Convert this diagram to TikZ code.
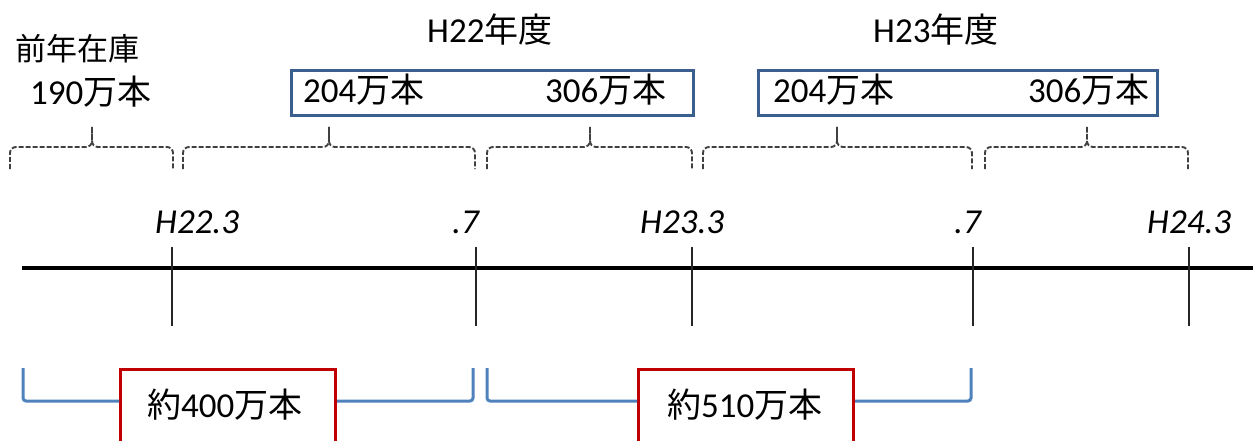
\documentclass[tikz,border=0pt]{standalone}
\usepackage{fontspec}
\setmainfont{Carlito}
\newfontfamily\cjk{Noto Sans CJK JP}
\newcommand\JP[1]{{\cjk\fontsize{34}{40}\selectfont #1}}
\definecolor{boxblue}{HTML}{3A5F8F}
\definecolor{brblue}{HTML}{4F81BD}
\definecolor{boxred}{HTML}{C00000}
\definecolor{dashgray}{HTML}{404040}
\tikzset{
 txt/.style={inner sep=0pt, anchor=base west, font=\fontsize{35}{40}\selectfont},
 itxt/.style={txt, font=\fontsize{35}{40}\selectfont\itshape},
 tickline/.style={line width=1.6pt, black!85},
 axisline/.style={line width=3.6pt, black},
 bluebox/.style={draw=boxblue, line width=3.4pt, inner sep=0pt, anchor=north west},
 redbox/.style={draw=boxred, line width=3.2pt, inner sep=0pt, anchor=north west},
 bracket/.style={draw=brblue, line width=3pt, rounded corners=3pt},
 bracehalf/.style={draw=dashgray, line width=1.9pt, dash pattern=on 5pt off 2pt, rounded corners=6pt},
}
\begin{document}
\begin{tikzpicture}[x=1pt,y=-1pt]
\useasboundingbox (0,0) rectangle (1253,441);
\clip (0,0) rectangle (1253,441);

% timeline
\coordinate (axL) at (22,268);
\coordinate (axR) at (1253,268);
\draw[axisline] (axL) -- (axR);
\foreach \x [count=\i] in {172,476,692,973,1189}{
  \coordinate (tt\i) at (\x,247);
  \coordinate (tb\i) at (\x,326);
  \draw[tickline] (tt\i) -- (tb\i);
}

% timeline labels
\node[itxt] (l1) at (155,233) {H22.3};
\node[itxt] (l2) at (452,233) {.7};
\node[itxt] (l3) at (640,233) {H23.3};
\node[itxt] (l4) at (954,233) {.7};
\node[itxt] (l5) at (1147,233) {H24.3};

% dashed braces
\foreach \L/\M/\R/\n in {10/92/173/1, 183/329/475/2, 487/590/692/3, 703/837/972/4, 985/1087/1188/5}{
  \coordinate (bl\n) at (\L,169);
  \coordinate (bm\n) at (\M,127);
  \coordinate (br\n) at (\R,169);
  \draw[bracehalf] (bl\n) |- (\M,147) -- (bm\n);
  \draw[bracehalf] (bm\n) -- (\M,147) -| (br\n);
}

% top texts
\node[txt, font={\cjk\fontsize{31}{36}\selectfont}] (prev) at (15,61) {前年在庫};
\node[txt] (prevn) at (30,105) {190\JP{万本}};
\node[txt] (y22) at (427,43) {H22\JP{年度}};
\node[txt] (y23) at (873,43) {H23\JP{年度}};

% blue boxes
\node[bluebox, minimum width=402pt, minimum height=45pt] (bb1) at (290,69) {};
\node[bluebox, minimum width=399pt, minimum height=45pt] (bb2) at (757,69) {};
\node[txt] (a1) at (303,103) {204\JP{万本}};
\node[txt] (a2) at (545,103) {306\JP{万本}};
\node[txt] (a3) at (773,103) {204\JP{万本}};
\node[txt] (a4) at (1028,103) {306\JP{万本}};

% red boxes
\node[redbox, minimum width=215pt, minimum height=100pt] (rb1) at (119,368) {};
\node[redbox, minimum width=215pt, minimum height=100pt] (rb2) at (637,368) {};
\node[txt] (rt1) at (147,417) {\JP{約}400\JP{万本}};
\node[txt] (rt2) at (667,417) {\JP{約}510\JP{万本}};

% blue brackets
\coordinate (yb) at (0,401);
\coordinate (k1l) at (23,368);
\coordinate (k1r) at (473,368);
\coordinate (k2l) at (487,368);
\coordinate (k2r) at (971,368);
\draw[bracket] (k1l) |- (rb1.west |- yb);
\draw[bracket] (rb1.east |- yb) -| (k1r);
\draw[bracket] (k2l) |- (rb2.west |- yb);
\draw[bracket] (rb2.east |- yb) -| (k2r);
\end{tikzpicture}
\end{document}
